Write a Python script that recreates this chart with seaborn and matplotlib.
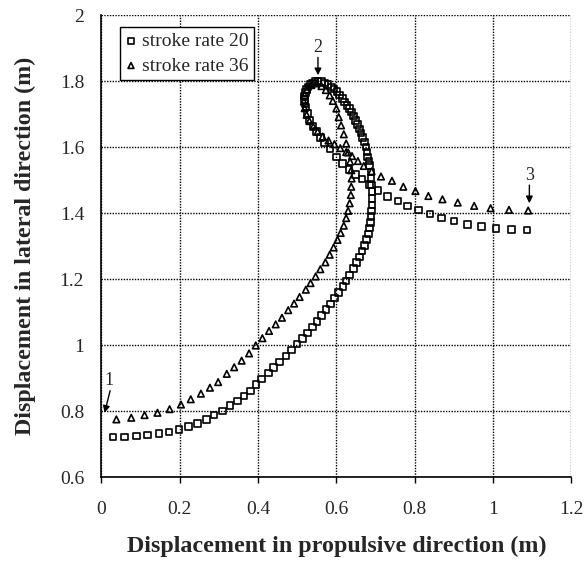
import pandas as pd
import matplotlib.pyplot as plt
import seaborn as sns

# stroke rate 20 (squares)
sr20_x = [0.030, 0.059, 0.089, 0.118, 0.147, 0.173, 0.198, 0.222, 0.245, 0.268, 0.288, 0.309,
          0.328, 0.347, 0.364, 0.381, 0.395,
          0.409, 0.426, 0.440, 0.455, 0.471, 0.485, 0.500, 0.513, 0.526, 0.539, 0.550, 0.562,
          0.574, 0.585, 0.595, 0.606, 0.617, 0.625, 0.634, 0.644, 0.651, 0.659, 0.666, 0.672,
          0.677, 0.682, 0.684, 0.687, 0.689, 0.690, 0.691,
          0.691, 0.691, 0.690, 0.689, 0.688, 0.685, 0.683, 0.680, 0.678, 0.676, 0.672, 0.667,
          0.663, 0.659, 0.654, 0.649, 0.644, 0.638, 0.633, 0.627, 0.621, 0.615, 0.608, 0.601,
          0.594, 0.587, 0.579, 0.570, 0.562, 0.553, 0.546, 0.539, 0.533, 0.528, 0.524, 0.521,
          0.519, 0.519, 0.520, 0.522, 0.526, 0.532, 0.540, 0.549, 0.559, 0.570, 0.584, 0.600,
          0.615, 0.632, 0.649, 0.666, 0.684, 0.706,
          0.731, 0.757, 0.782, 0.810, 0.839, 0.869, 0.901, 0.935, 0.971, 1.008, 1.048, 1.087]
sr20_y = [0.722, 0.722, 0.725, 0.727, 0.732, 0.737, 0.745, 0.753, 0.763, 0.774, 0.788, 0.801,
          0.817, 0.831, 0.846, 0.861, 0.881,
          0.897, 0.916, 0.932, 0.949, 0.967, 0.985, 1.003, 1.020, 1.037, 1.055, 1.072, 1.090,
          1.108, 1.125, 1.143, 1.160, 1.178, 1.195, 1.213, 1.232, 1.250, 1.267, 1.285, 1.302,
          1.320, 1.337, 1.355, 1.372, 1.390, 1.407, 1.425,
          1.445, 1.465, 1.485, 1.505, 1.525, 1.545, 1.558, 1.570, 1.585, 1.600, 1.615, 1.630,
          1.643, 1.655, 1.668, 1.681, 1.694, 1.706, 1.717, 1.727, 1.737, 1.747, 1.758, 1.768,
          1.776, 1.783, 1.790, 1.795, 1.799, 1.800, 1.799, 1.795, 1.790, 1.783, 1.775, 1.765,
          1.755, 1.745, 1.733, 1.722, 1.702, 1.682, 1.664, 1.647, 1.630, 1.612, 1.594, 1.570,
          1.550, 1.532, 1.517, 1.504, 1.487, 1.468,
          1.451, 1.437, 1.421, 1.409, 1.397, 1.386, 1.376, 1.366, 1.359, 1.354, 1.351, 1.349]

# stroke rate 36 (triangles)
sr36_x = [0.038, 0.076, 0.110, 0.143, 0.174, 0.203, 0.228, 0.254, 0.277, 0.298,
          0.320, 0.339, 0.358, 0.377, 0.394, 0.411, 0.428, 0.445, 0.461, 0.477, 0.492, 0.506,
          0.522, 0.534, 0.547, 0.559, 0.572, 0.583, 0.593, 0.603, 0.611, 0.619, 0.625, 0.630,
          0.634,
          0.637, 0.638, 0.639, 0.638, 0.635, 0.630, 0.625, 0.619, 0.612, 0.606, 0.600, 0.591,
          0.583, 0.573, 0.562, 0.549, 0.536, 0.525, 0.519, 0.517, 0.519, 0.524, 0.531, 0.541,
          0.552, 0.565, 0.580, 0.595, 0.610, 0.625, 0.640, 0.655, 0.670, 0.690,
          0.714, 0.742, 0.771, 0.802, 0.835, 0.871, 0.910, 0.952, 0.994, 1.041, 1.090]
sr36_y = [0.775, 0.780, 0.788, 0.795, 0.806, 0.820, 0.836, 0.853, 0.871, 0.888,
          0.913, 0.933, 0.953, 0.975, 0.999, 1.021, 1.043, 1.063, 1.083, 1.106, 1.126, 1.146,
          1.168, 1.188, 1.208, 1.230, 1.251, 1.274, 1.296, 1.319, 1.340, 1.362, 1.385, 1.407,
          1.430,
          1.455, 1.480, 1.505, 1.530, 1.556, 1.584, 1.611, 1.639, 1.666, 1.691, 1.717, 1.740,
          1.757, 1.773, 1.785, 1.793, 1.788, 1.775, 1.758, 1.738, 1.718, 1.698, 1.679, 1.662,
          1.647, 1.632, 1.620, 1.609, 1.597, 1.585, 1.573, 1.558, 1.543, 1.527,
          1.511, 1.498, 1.480, 1.467, 1.452, 1.442, 1.432, 1.422, 1.415, 1.410, 1.408]

x_ticks = [0, 0.2, 0.4, 0.6, 0.8, 1, 1.2]
y_ticks = [0.6, 0.8, 1, 1.2, 1.4, 1.6, 1.8, 2]

sns.set_style("white")
plt.rcParams['font.family'] = ['Liberation Serif', 'DejaVu Serif']

fig = plt.figure(figsize=(5.85, 5.62), dpi=100)
ax = fig.add_axes([0.1735, 0.151, 0.803, 0.822])

sns.scatterplot(x=sr20_x, y=sr20_y, marker='s', s=22, facecolor='none', edgecolor='black',
                linewidth=1.2, label='stroke rate 20', ax=ax, zorder=3)
sns.scatterplot(x=sr36_x, y=sr36_y, marker='^', s=22, facecolor='none', edgecolor='black',
                linewidth=1.2, label='stroke rate 36', ax=ax, zorder=3)

ax.set_xlim(0, 1.2)
ax.set_ylim(0.6, 2)
ax.set_xticks(x_ticks)
ax.set_yticks(y_ticks)
ax.set_xticklabels(['0', '0.2', '0.4', '0.6', '0.8', '1', '1.2'])
ax.set_yticklabels(['0.6', '0.8', '1', '1.2', '1.4', '1.6', '1.8', '2'])
ax.tick_params(axis='x', labelsize=14, direction='out', length=4, width=1, color='black',
               bottom=True, pad=13)
ax.tick_params(axis='y', labelsize=14, left=False, pad=9)
ax.grid(True, linestyle=(0, (1, 1)), color='black', linewidth=1.0)
for side in ['top', 'right']:
    ax.spines[side].set_visible(False)
for side in ['left', 'bottom']:
    ax.spines[side].set_color('black')
    ax.spines[side].set_linewidth(1.2)

ax.set_xlabel('Displacement in propulsive direction (m)', fontsize=17.3, fontweight='bold')
ax.set_ylabel('Displacement in lateral direction (m)', fontsize=17.3, fontweight='bold')
ax.xaxis.set_label_coords(0.5, -0.128)
ax.yaxis.set_label_coords(-0.14, 0.5)

# point annotations
arrow = dict(arrowstyle='-|>', color='black', lw=1, mutation_scale=10, shrinkA=0, shrinkB=0)
ax.annotate('', xy=(0.008, 0.795), xytext=(0.022, 0.862), arrowprops=arrow)
ax.text(0.02, 0.868, '1', fontsize=13, ha='center', va='bottom')
ax.annotate('', xy=(0.553, 1.818), xytext=(0.553, 1.872), arrowprops=arrow)
ax.text(0.553, 1.876, '2', fontsize=13, ha='center', va='bottom')
ax.annotate('', xy=(1.093, 1.43), xytext=(1.093, 1.485), arrowprops=arrow)
ax.text(1.093, 1.489, '3', fontsize=13, ha='center', va='bottom')

leg = ax.legend(loc='upper left', bbox_to_anchor=(0.04, 0.975), borderaxespad=0, fontsize=14,
                frameon=True, fancybox=False, edgecolor='black', framealpha=1,
                handletextpad=0.3, borderpad=0.3, labelspacing=0.35, handlelength=0.5,
                markerscale=0.9)
leg.get_frame().set_linewidth(1.0)

plt.savefig('out.png', dpi=100)
